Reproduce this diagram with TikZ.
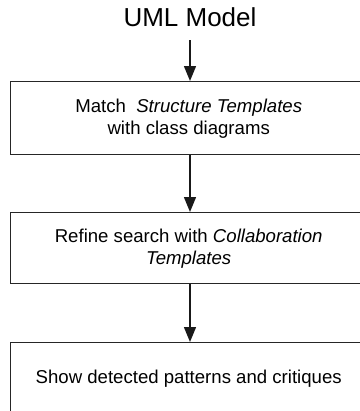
\documentclass[tikz,border=0pt]{standalone}
\usepackage{fontspec}
\setmainfont{Liberation Sans}
\usetikzlibrary{arrows.meta}

\tikzset{
  stage/.style={draw=black!85, line width=1.4bp, minimum width=356bp,
    inner sep=0pt, align=center, font=\fontsize{18.6bp}{22bp}\selectfont},
  flow/.style={draw=black!90, line width=1.4bp,
    -{Triangle[width=12bp,length=15bp]}},
}

\begin{document}
\begin{tikzpicture}[x=1bp, y=-1bp]
  \useasboundingbox (0,0) rectangle (360,411);
  \clip (0,0) rectangle (360,411);

  % title
  \node[inner sep=0pt, minimum height=40bp, text height=18.5bp, text depth=5bp,
        font=\fontsize{26bp}{31bp}\selectfont] (title) at (190,20) {UML Model};

  % processing stages
  \node[stage, minimum height=73bp, anchor=north west] (match) at (10,81)
    {Match\ \ \textit{Structure Templates}\\with class diagrams};
  \node[stage, minimum height=71bp, anchor=north west] (refine) at (10,212)
    {Refine search with \textit{Collaboration}\\\textit{Templates}};
  \node[stage, minimum height=72bp, anchor=north west] (show) at (10,342)
    {Show detected patterns and critiques};

  % connectors
  \draw[flow] (title.south) -- (match.north -| title.south);
  \draw[flow] (match.south -| title.south) -- (refine.north -| title.south);
  \draw[flow] (refine.south -| title.south) -- (show.north -| title.south);
\end{tikzpicture}
\end{document}
